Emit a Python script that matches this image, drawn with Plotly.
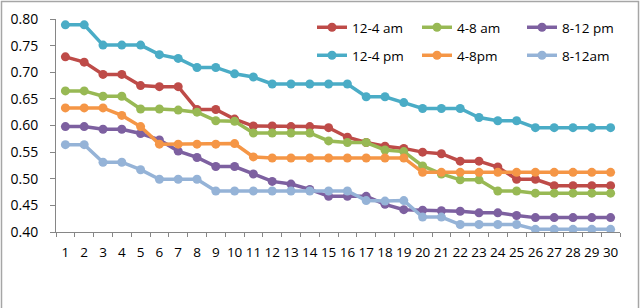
import plotly.graph_objects as go

days = [str(i) for i in range(1, 31)]

s_12_4_am = [0.729, 0.719, 0.696, 0.696, 0.675, 0.673, 0.673, 0.630, 0.630, 0.612,
             0.599, 0.599, 0.598, 0.598, 0.596, 0.578, 0.568, 0.561, 0.557, 0.550,
             0.547, 0.533, 0.533, 0.522, 0.499, 0.499, 0.487, 0.487, 0.487, 0.487]
s_4_8_am = [0.665, 0.665, 0.655, 0.655, 0.631, 0.631, 0.629, 0.625, 0.609, 0.608,
            0.586, 0.586, 0.586, 0.586, 0.571, 0.568, 0.568, 0.554, 0.551, 0.524,
            0.509, 0.498, 0.498, 0.477, 0.477, 0.473, 0.473, 0.473, 0.473, 0.473]
s_8_12_pm = [0.598, 0.598, 0.593, 0.593, 0.585, 0.573, 0.552, 0.540, 0.523, 0.523,
             0.509, 0.495, 0.490, 0.480, 0.467, 0.467, 0.467, 0.452, 0.442, 0.441,
             0.440, 0.439, 0.436, 0.436, 0.431, 0.427, 0.427, 0.427, 0.427, 0.427]
s_12_4_pm = [0.789, 0.789, 0.751, 0.751, 0.751, 0.733, 0.726, 0.709, 0.709, 0.697,
             0.691, 0.678, 0.678, 0.678, 0.678, 0.678, 0.654, 0.654, 0.643, 0.632,
             0.632, 0.632, 0.615, 0.609, 0.609, 0.596, 0.596, 0.596, 0.596, 0.596]
s_4_8pm = [0.633, 0.633, 0.633, 0.619, 0.598, 0.565, 0.565, 0.565, 0.565, 0.566,
           0.541, 0.539, 0.539, 0.539, 0.539, 0.539, 0.539, 0.539, 0.539, 0.512,
           0.512, 0.512, 0.512, 0.512, 0.512, 0.512, 0.512, 0.512, 0.512, 0.512]
s_8_12am = [0.564, 0.564, 0.531, 0.531, 0.517, 0.499, 0.499, 0.499, 0.477, 0.477,
            0.477, 0.477, 0.477, 0.477, 0.477, 0.477, 0.459, 0.458, 0.459, 0.428,
            0.428, 0.414, 0.414, 0.414, 0.414, 0.405, 0.405, 0.405, 0.405, 0.405]

series = [
    ("12-4 am", s_12_4_am, "#BE4B48", "legend"),
    ("4-8 am", s_4_8_am, "#98B954", "legend"),
    ("8-12 pm", s_8_12_pm, "#7D60A0", "legend"),
    ("12-4 pm", s_12_4_pm, "#4AACC6", "legend2"),
    ("4-8pm", s_4_8pm, "#F59646", "legend2"),
    ("8-12am", s_8_12am, "#95B3D7", "legend2"),
]

FONT = "Open Sans, Lato, sans-serif"

fig = go.Figure()
for name, vals, col, lg in series:
    fig.add_trace(go.Scatter(
        x=days, y=vals, name=name, mode="lines+markers",
        line=dict(color=col, width=3.5),
        marker=dict(color=col, size=9),
        legend=lg,
    ))

L, R, T, B = 56, 20, 19, 76
W, H = 640, 308
pw, ph = W - L - R, H - T - B

def px_x(p):
    return (p - L) / pw

def px_y(p):
    return (H - B - p) / ph

legend_common = dict(
    orientation="h", xanchor="left", yanchor="top",
    entrywidth=60, entrywidthmode="pixels",
    font=dict(family=FONT, size=13.5, color="#000000"),
    bgcolor="rgba(0,0,0,0)", borderwidth=0, traceorder="normal",
)

fig.update_layout(
    width=W, height=H,
    margin=dict(l=L, r=R, t=T, b=B, pad=0, autoexpand=False),
    paper_bgcolor="white", plot_bgcolor="white",
    font=dict(family=FONT, size=13, color="#000000"),
    showlegend=True,
    legend=dict(x=px_x(312), y=px_y(12), **legend_common),
    legend2=dict(x=px_x(312), y=px_y(40), **legend_common),
    xaxis=dict(
        type="category", range=[-0.5, 29.5], automargin=False,
        showgrid=False, zeroline=False,
        showline=True, linecolor="#868686", linewidth=1,
        ticks="outside", ticklen=4, tickcolor="#868686", tickson="boundaries",
        tickfont=dict(family=FONT, size=13.5, color="#000000"),
        tickangle=0, ticklabelstandoff=8,
    ),
    yaxis=dict(
        range=[0.40, 0.80], dtick=0.05, tick0=0.40, tickformat=".2f",
        automargin=False,
        showgrid=False, zeroline=False,
        showline=True, linecolor="#868686", linewidth=1,
        ticks="outside", ticklen=5, tickcolor="#868686",
        tickfont=dict(family=FONT, size=14, color="#000000"),
        ticklabelstandoff=9,
    ),
    shapes=[dict(
        type="rect", xref="paper", yref="paper",
        x0=px_x(1.5), x1=px_x(638.5), y0=px_y(312), y1=px_y(1.5),
        line=dict(color="#A6A6A6", width=1.5), fillcolor="rgba(0,0,0,0)",
        layer="below",
    )],
)

fig.write_html("out.html", config={"displayModeBar": False},
               post_script="document.body.style.margin='0';")
